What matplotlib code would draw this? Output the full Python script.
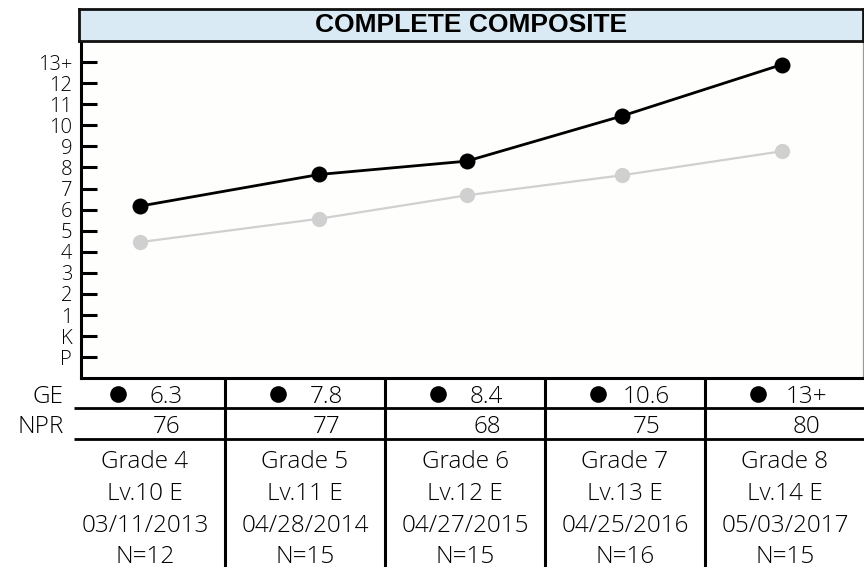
import matplotlib
matplotlib.use("Agg")
import matplotlib.pyplot as plt
import numpy as np

# ---------------- data ----------------
grades = ["Grade 4", "Grade 5", "Grade 6", "Grade 7", "Grade 8"]
levels = ["Lv.10 E", "Lv.11 E", "Lv.12 E", "Lv.13 E", "Lv.14 E"]
test_dates = ["03/11/2013", "04/28/2014", "04/27/2015", "04/25/2016", "05/03/2017"]
n_counts = ["N=12", "N=15", "N=15", "N=16", "N=15"]
ge_labels = ["6.3", "7.8", "8.4", "10.6", "13+"]
npr_values = [76, 77, 68, 75, 80]

# plotted positions (column units) and values
x_occasion = [-0.03, 1.09, 2.01, 2.98, 3.98]
student_ge = [6.17, 7.67, 8.30, 10.44, 12.88]
norm_ge = [4.46, 5.57, 6.68, 7.63, 8.77]

y_tick_values = list(range(-1, 14))
y_tick_labels = ["P", "K"] + [str(i) for i in range(1, 13)] + ["13+"]

title = "COMPLETE COMPOSITE"

# ---------------- figure ----------------
W, H = 864, 567
fig = plt.figure(figsize=(W / 100, H / 100), dpi=100)
FONT = "Open Sans"
WEIGHT = "light"


def fx(px):
    return px / W


def fy(py):
    return 1 - py / H


col_left_px, col_w_px = 65.0, 160.0


def px_to_col(px):
    return (px - col_left_px) / col_w_px - 0.5


# plot axes
pl, pr, pt, pb = 80.5, 863.0, 41.0, 378.3
ax = fig.add_axes([fx(pl), fy(pb), fx(pr - pl), (pb - pt) / H])
ax.set_xlim(px_to_col(pl), px_to_col(pr))
ax.set_ylim(-2, 14)
ax.plot(x_occasion, norm_ge, color="#d0d0d0", lw=1.6, marker="o", ms=11,
        markeredgewidth=0, zorder=2)
ax.plot(x_occasion, student_ge, color="black", lw=2.0, marker="o", ms=11.5,
        markeredgewidth=0, zorder=3)
ax.set_yticks(y_tick_values)
ax.set_yticklabels(y_tick_labels, fontfamily=FONT, fontsize=14.5,
                   fontweight=WEIGHT)
ax.tick_params(axis="y", direction="in", length=11.5, width=2.2, pad=6)
ax.set_xticks([])
for s in ["left", "bottom"]:
    ax.spines[s].set_linewidth(2.2)
    ax.spines[s].set_color("black")
ax.spines["right"].set_linewidth(0.9)
ax.spines["right"].set_color("#9a9a9a")
ax.spines["top"].set_visible(False)
ax.set_facecolor("#fefefd")

# title box
tl, tr, tt, tb = 79.0, 863.0, 8.5, 41.0
tax = fig.add_axes([fx(tl), fy(tb), fx(tr - tl), (tb - tt) / H])
tax.set_facecolor("#d9eaf5")
tax.set_xticks([])
tax.set_yticks([])
for s in tax.spines.values():
    s.set_linewidth(2.0)
    s.set_color("#111111")
tax.text(0.5, 0.5, title, transform=tax.transAxes, ha="center", va="center",
         fontfamily="Liberation Sans", fontweight="bold", fontsize=19)

# table axes (y in pixel units)
tab = fig.add_axes([fx(col_left_px), 0, fx(col_w_px * 5), (H - pb) / H])
tab.set_xlim(-0.5, 4.5)
tab.set_ylim(H, pb)
tab.axis("off")

cols = np.arange(len(grades))
for xb in cols[:-1] + 0.5:
    tab.plot([xb, xb], [pb, H], color="black", lw=2.2, solid_capstyle="butt",
             clip_on=False)
for yl in [407.7, 439.0]:
    tab.plot([px_to_col(74), 4.5], [yl, yl], color="black", lw=2.0,
             solid_capstyle="butt", clip_on=False)

fs = 17.5
tkw = dict(fontfamily=FONT, fontsize=fs, fontweight=WEIGHT, va="baseline")
tab.text(px_to_col(63.5), 402.7, "GE", ha="right", clip_on=False, **tkw)
tab.text(px_to_col(63.5), 432.7, "NPR", ha="right", clip_on=False, **tkw)

tab.plot(cols - 27 / col_w_px, [394.3] * len(cols), "o", color="black",
         ms=12, markeredgewidth=0, clip_on=False)

for i in cols:
    tab.text(i + 21 / col_w_px, 402.7, ge_labels[i], ha="center", **tkw)
    tab.text(i + 22 / col_w_px, 432.7, str(npr_values[i]), ha="center", **tkw)
    for yb, txt in zip([468.3, 500.0, 532.0, 563.0],
                       [grades[i], levels[i], test_dates[i], n_counts[i]]):
        tab.text(i, yb, txt, ha="center", **tkw)

fig.savefig("out.png", dpi=100, facecolor="white")
